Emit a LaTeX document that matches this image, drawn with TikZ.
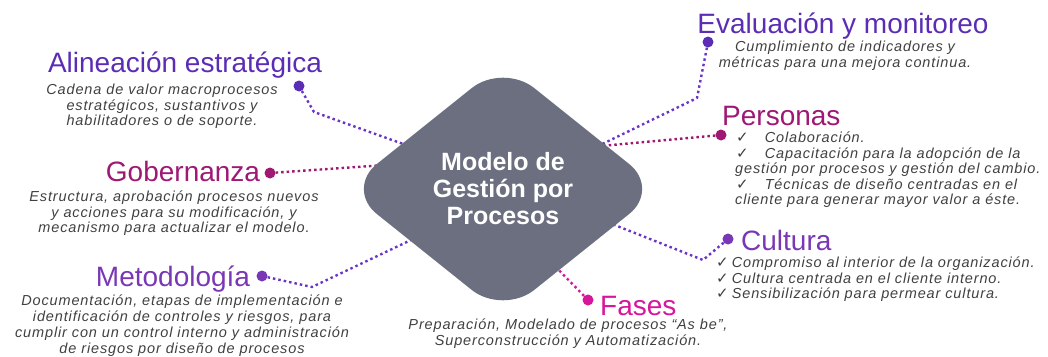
\documentclass[tikz,border=0pt]{standalone}
\usepackage{fontspec}
\setmainfont{Liberation Sans}
\newfontfamily\descfont[LetterSpace=6]{Liberation Sans}
\newfontfamily\ckfont{DejaVu Sans}
\usepackage{xcolor}
\usetikzlibrary{shapes.geometric,positioning}

\definecolor{violeta}{HTML}{5B2DB5}
\definecolor{morado}{HTML}{7A37B5}
\definecolor{vino}{HTML}{9E1874}
\definecolor{rosa}{HTML}{D6179C}
\definecolor{lineavio}{HTML}{6A35C4}
\definecolor{gris}{HTML}{6B6F7F}
\definecolor{texto}{HTML}{404040}

\newcommand{\chk}{{\ckfont\upshape\fontsize{15}{15}\selectfont ✓}}

\begin{document}
\begin{tikzpicture}[x=1pt,y=-1pt,
            titulo/.style={font=\fontsize{28}{28}\selectfont, inner sep=0pt},
            desc/.style={font=\descfont\itshape\fontsize{14.5}{15.5}\selectfont,
                text=texto, align=center, inner sep=0pt},
            punto/.style={circle, fill=#1, minimum size=11pt, inner sep=0pt},
            enlace/.style={draw=#1, line width=2.4pt, dash pattern=on 2.5pt off 3pt}]
    \useasboundingbox (0,0) rectangle (1048,356);

    % titulos
    \node[titulo, text=violeta, anchor=base] (hAli) at (185,72) {Alineación estratégica};
    \node[titulo, text=vino, anchor=base] (hGob) at (183,181) {Gobernanza};
    \node[titulo, text=morado, anchor=base] (hMet) at (173,286) {Metodología};
    \node[titulo, text=violeta, anchor=base] (hEva) at (843,33) {Evaluación y monitoreo};
    \node[titulo, text=vino, anchor=base west] (hPer) at (722,125) {Personas};
    \node[titulo, text=morado, anchor=base west] (hCul) at (741,250) {Cultura};
    \node[titulo, text=rosa, anchor=base west] (hFas) at (600,315) {Fases};

    % textos
    \node[desc, anchor=north] (tAli) at (162,84) {Cadena de valor macroprocesos\\
        estratégicos, sustantivos y\\ habilitadores o de soporte.};
    \node[desc, anchor=north] (tGob) at (174,191) {Estructura, aprobación procesos nuevos\\
        y acciones para su modificación, y\\ mecanismo para actualizar el modelo.};
    \node[desc, anchor=north, font=\descfont\itshape\fontsize{14.5}{15.8}\selectfont] (tMet) at (182,295)
        {Documentación, etapas de implementación e\\
        identificación de controles y riesgos, para\\
        cumplir con un control interno y administración\\
        de riesgos por diseño de procesos};
    \node[desc, anchor=north] (tEva) at (845,41) {Cumplimiento de indicadores y\\
        métricas para una mejora continua.};
    \node[desc, anchor=north west, align=left] (tPer) at (735,132)
        {\hspace{1pt}\chk\hspace{16pt}Colaboración.\\
        \hspace{1pt}\chk\hspace{16pt}Capacitación para la adopción de la\\
        gestión por procesos y gestión del cambio.\\
        \hspace{1pt}\chk\hspace{16pt}Técnicas de diseño centradas en el\\
        cliente para generar mayor valor a éste.};
    \node[desc, anchor=north west, align=left] (tCul) at (716,257)
        {\chk\hspace{3pt}Compromiso al interior de la organización.\\
        \chk\hspace{3pt}Cultura centrada en el cliente interno.\\
        \chk\hspace{3pt}Sensibilización para permear cultura.};
    \node[desc, anchor=north] (tFas) at (568,319) {Preparación, Modelado de procesos “As be”,\\
        Superconstrucción y Automatización.};

    % puntos
    \node[punto=violeta] (dAli) at (299,86) {};
    \node[punto=vino] (dGob) at (270,173) {};
    \node[punto=morado] (dMet) at (262,276) {};
    \node[punto=violeta] (dEva) at (708,42) {};
    \node[punto=vino] (dPer) at (721,135) {};
    \node[punto=morado] (dCul) at (728,239) {};
    \node[punto=rosa] (dFas) at (588,300) {};

    % extremos bajo el rombo
    \coordinate (eAli) at (420,150);
    \coordinate (eGob) at (400,164);
    \coordinate (eMet) at (430,231);
    \coordinate (eEva) at (590,150);
    \coordinate (ePer) at (590,147);
    \coordinate (eCul) at (597,218);
    \coordinate (eFas) at (550,261);

    \draw[enlace=lineavio] (dAli) -- (314,112) -- (eAli);
    \draw[enlace=vino] (dGob) -- (eGob);
    \draw[enlace=lineavio] (dMet) -- (312,287) -- (eMet);
    \draw[enlace=lineavio] (dEva) -- (697,98) -- (eEva);
    \draw[enlace=vino] (dPer) -- (ePer);
    \draw[enlace=lineavio] (dCul) -- (703,260) -- (eCul);
    \draw[enlace=rosa] (dFas) -- (eFas);

    % rombo central
    \node[diamond, fill=gris, aspect=1.25, minimum width=315pt, minimum height=252pt,
        rounded corners=40pt, inner sep=0pt, text=white, align=center,
        font=\bfseries\fontsize{25}{27}\selectfont] (hub) at (503,189)
        {Modelo de\\ Gestión por\\ Procesos};
\end{tikzpicture}
\end{document}
